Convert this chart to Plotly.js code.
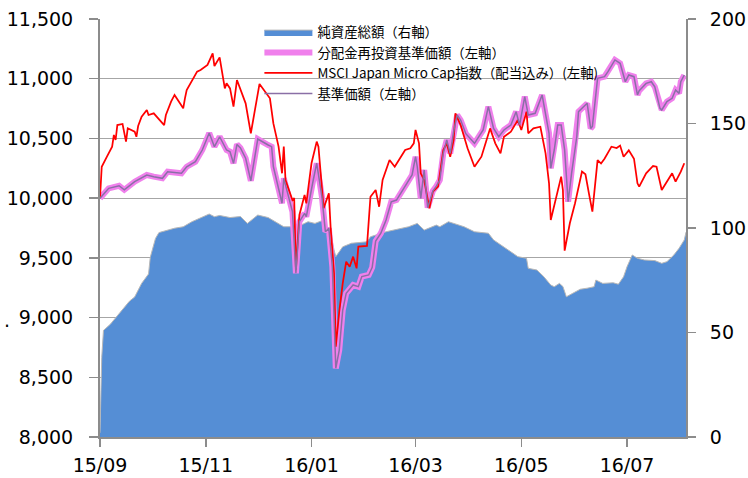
<!DOCTYPE html>
<html>
<head>
<meta charset="utf-8">
<script src="https://cdn.plot.ly/plotly-3.0.1.min.js"></script>
<style>html,body{margin:0;padding:0;background:#fff;}#chart{width:748px;height:478px;}</style>
</head>
<body>
<div id="chart"></div>
<script>
// 純資産総額（右軸, 億円）
const assetDates = ["2015-09-01","2015-09-02","2015-09-03","2015-09-07","2015-09-11","2015-09-14","2015-09-18","2015-09-21","2015-09-25","2015-09-29","2015-09-30","2015-10-03","2015-10-05","2015-10-14","2015-10-19","2015-10-24","2015-10-30","2015-11-03","2015-11-06","2015-11-09","2015-11-15","2015-11-21","2015-11-25","2015-12-01","2015-12-07","2015-12-13","2015-12-16","2015-12-24","2015-12-30","2016-01-03","2016-01-07","2016-01-09","2016-01-12","2016-01-14","2016-01-15","2016-01-19","2016-01-24","2016-02-02","2016-02-04","2016-02-13","2016-02-23","2016-02-26","2016-03-02","2016-03-06","2016-03-13","2016-03-15","2016-03-20","2016-03-22","2016-03-23","2016-03-29","2016-04-04","2016-04-12","2016-04-15","2016-04-19","2016-04-25","2016-04-29","2016-05-04","2016-05-05","2016-05-10","2016-05-14","2016-05-18","2016-05-20","2016-05-23","2016-05-25","2016-05-27","2016-05-31","2016-06-04","2016-06-08","2016-06-12","2016-06-13","2016-06-17","2016-06-23","2016-06-26","2016-06-29","2016-07-01","2016-07-04","2016-07-07","2016-07-11","2016-07-17","2016-07-21","2016-07-24","2016-07-28","2016-07-31","2016-08-03","2016-08-04"];
const assetVals = [2,38,51,54,58,61,65,67,73.5,78,86,95,97.8,99.9,100.6,103,105.4,106.7,105.4,106,105,105.5,102.2,106.2,105,102.2,100.6,100.6,103,102.2,103.5,100.6,97.5,89.5,86.3,91,92.7,93.4,95.8,98.2,99.8,100.6,102.2,99,101.4,100.6,103,102.5,102.2,100.6,98.2,97.5,94.3,92,88.7,86.3,85.5,80.7,79.9,76.7,72.7,71.9,73.5,72,67.1,68.8,70.7,71.2,71.9,75.1,73.5,73.8,73.1,76.7,81.5,87.1,85.5,84.7,84.4,83.1,83.9,87.1,90.3,94.3,98];

// 分配金再投資基準価額（左軸）
const reinvDates = ["2015-09-01","2015-09-06","2015-09-12","2015-09-15","2015-09-21","2015-09-28","2015-10-02","2015-10-07","2015-10-10","2015-10-18","2015-10-21","2015-10-26","2015-10-30","2015-11-03","2015-11-06","2015-11-09","2015-11-13","2015-11-15","2015-11-17","2015-11-19","2015-11-21","2015-11-24","2015-11-27","2015-12-01","2015-12-07","2015-12-09","2015-12-10","2015-12-15","2015-12-16","2015-12-21","2015-12-23","2015-12-25","2015-12-28","2015-12-29","2016-01-02","2016-01-04","2016-01-07","2016-01-09","2016-01-11","2016-01-13","2016-01-15","2016-01-17","2016-01-19","2016-01-21","2016-01-25","2016-01-28","2016-01-30","2016-02-03","2016-02-05","2016-02-07","2016-02-10","2016-02-13","2016-02-16","2016-02-19","2016-02-25","2016-02-28","2016-03-01","2016-03-02","2016-03-04","2016-03-06","2016-03-08","2016-03-11","2016-03-13","2016-03-15","2016-03-17","2016-03-19","2016-03-21","2016-03-23","2016-03-25","2016-03-27","2016-03-30","2016-04-04","2016-04-09","2016-04-12","2016-04-15","2016-04-18","2016-04-21","2016-04-25","2016-04-28","2016-04-30","2016-05-03","2016-05-05","2016-05-09","2016-05-13","2016-05-17","2016-05-18","2016-05-20","2016-05-22","2016-05-24","2016-05-26","2016-05-28","2016-05-30","2016-06-02","2016-06-03","2016-06-08","2016-06-10","2016-06-11","2016-06-14","2016-06-18","2016-06-20","2016-06-24","2016-06-27","2016-06-30","2016-07-02","2016-07-05","2016-07-07","2016-07-08","2016-07-12","2016-07-15","2016-07-17","2016-07-20","2016-07-21","2016-07-24","2016-07-27","2016-07-29","2016-07-31","2016-08-01","2016-08-03"];
const reinvVals = [10000,10082,10104,10070,10138,10194,10180,10166,10221,10208,10263,10305,10403,10545,10431,10514,10403,10389,10292,10450,10420,10334,10145,10495,10445,10431,10263,9957,10166,9887,9371,9803,9873,9845,10152,10292,10012,9719,9747,9426,8575,8728,9063,9203,9273,9259,9343,9357,9420,9640,9706,9817,9970,9984,10124,10194,10347,10263,9998,10236,9920,10060,10100,10152,10375,10487,10375,10560,10696,10654,10540,10459,10571,10766,10584,10514,10571,10612,10724,10612,10850,10696,10710,10864,10543,10250,10403,10612,10612,10403,9970,10208,10514,10724,10794,10584,10600,11003,11017,11059,11157,11129,10975,11031,11017,10864,10900,10961,10975,10933,10752,10738,10808,10836,10905,10877,10975,11031];

// 基準価額（左軸）— no distributions, identical to reinvested NAV
const navDates = reinvDates;
const navVals = reinvVals;

// MSCI Japan Micro Cap指数（配当込み）（左軸, rebased）
const msciDates = ["2015-09-01","2015-09-02","2015-09-05","2015-09-08","2015-09-09","2015-09-10","2015-09-11","2015-09-14","2015-09-16","2015-09-17","2015-09-21","2015-09-22","2015-09-23","2015-09-25","2015-09-28","2015-09-29","2015-10-02","2015-10-08","2015-10-09","2015-10-12","2015-10-14","2015-10-19","2015-10-20","2015-10-21","2015-10-27","2015-10-29","2015-11-02","2015-11-05","2015-11-06","2015-11-09","2015-11-12","2015-11-13","2015-11-15","2015-11-17","2015-11-19","2015-11-21","2015-11-24","2015-11-27","2015-12-02","2015-12-08","2015-12-10","2015-12-13","2015-12-15","2015-12-16","2015-12-17","2015-12-21","2015-12-22","2015-12-23","2015-12-25","2015-12-28","2015-12-29","2016-01-01","2016-01-04","2016-01-05","2016-01-08","2016-01-11","2016-01-12","2016-01-14","2016-01-15","2016-01-17","2016-01-19","2016-01-21","2016-01-23","2016-01-25","2016-01-27","2016-01-28","2016-02-02","2016-02-04","2016-02-07","2016-02-09","2016-02-11","2016-02-15","2016-02-18","2016-02-24","2016-02-27","2016-02-29","2016-03-01","2016-03-03","2016-03-04","2016-03-06","2016-03-09","2016-03-11","2016-03-14","2016-03-17","2016-03-19","2016-03-21","2016-03-23","2016-03-24","2016-03-27","2016-03-31","2016-04-04","2016-04-08","2016-04-13","2016-04-16","2016-04-19","2016-04-21","2016-04-25","2016-04-29","2016-05-01","2016-05-04","2016-05-05","2016-05-08","2016-05-12","2016-05-15","2016-05-17","2016-05-18","2016-05-21","2016-05-24","2016-05-25","2016-05-26","2016-05-29","2016-06-01","2016-06-05","2016-06-07","2016-06-09","2016-06-11","2016-06-14","2016-06-16","2016-06-18","2016-06-22","2016-06-25","2016-06-27","2016-06-29","2016-07-02","2016-07-05","2016-07-07","2016-07-08","2016-07-12","2016-07-16","2016-07-18","2016-07-21","2016-07-24","2016-07-27","2016-07-29","2016-08-01","2016-08-03"];
const msciVals = [10000,10263,10347,10431,10529,10487,10612,10621,10473,10585,10556,10514,10604,10682,10738,10696,10710,10612,10696,10808,10864,10752,10836,10905,11059,11073,11115,11213,11106,11179,10919,10961,10919,10766,10989,10905,10794,10543,10956,10836,10626,10431,10208,10431,10152,9984,10000,9400,9859,10026,9957,10292,10473,10431,9915,10040,9761,9371,8756,9050,9287,9468,9426,9510,9412,9594,9600,10012,10068,9928,10152,10319,10263,10403,10417,10459,10571,10459,10208,10150,9915,10054,10096,10403,10459,10347,10487,10710,10612,10417,10263,10347,10584,10459,10375,10514,10556,10654,10571,10724,10543,10584,10598,10375,10124,9817,10012,10180,10068,9560,9790,9957,10222,10200,10040,9887,10319,10290,10330,10431,10420,10440,10347,10400,10330,10124,10096,10208,10269,10263,10068,10138,10208,10138,10222,10292];

const names = ["純資産総額（右軸）","分配金再投資基準価額（左軸）","MSCI Japan Micro Cap指数（配当込み）(左軸)","基準価額（左軸）"];

const tickFont = {family: "DejaVu Sans", size: 19, color: "#000"};

const data = [
  {x: assetDates, y: assetVals, name: names[0], type: "scatter", mode: "lines",
   fill: "tozeroy", fillcolor: "#558ed5", line: {color: "#b8b8b8", width: 1},
   xaxis: "x", yaxis: "y", hoverinfo: "skip"},
  {x: reinvDates, y: reinvVals, name: names[1], type: "scatter", mode: "lines",
   line: {color: "#f080ec", width: 6}, xaxis: "x", yaxis: "y2"},
  {x: msciDates, y: msciVals, name: names[2], type: "scatter", mode: "lines",
   line: {color: "#ff0000", width: 1.75}, xaxis: "x", yaxis: "y2"},
  {x: navDates, y: navVals, name: names[3], type: "scatter", mode: "lines",
   line: {color: "#8a6fa6", width: 1.5}, xaxis: "x", yaxis: "y2"}
];

const layout = {
  width: 748, height: 478,
  margin: {l: 100, r: 62, t: 19, b: 41},
  paper_bgcolor: "#fff", plot_bgcolor: "rgba(0,0,0,0)",
  showlegend: true,
  legend: {x: 0.272, y: 1.005, xanchor: "left", yanchor: "top",
           bgcolor: "rgba(0,0,0,0)", itemwidth: 48,
           font: {family: "Noto Sans CJK JP", size: 13.4, color: "#000"},
           tracegroupgap: 0},
  xaxis: {type: "date", range: ["2015-09-01", "2016-08-04"],
          tick0: "2015-09-01", dtick: "M2", tickformat: "%y/%m",
          ticks: "outside", ticklen: 8, tickcolor: "#8c8c8c", tickwidth: 1.5,
          showline: true, linecolor: "#8c8c8c", linewidth: 2,
          showgrid: false, zeroline: false, tickfont: tickFont,
          ticklabelstandoff: 2},
  yaxis: {range: [0, 200], dtick: 50, side: "right",
          ticks: "outside", ticklen: 8, tickcolor: "#8c8c8c", tickwidth: 1.5,
          showline: true, linecolor: "#8c8c8c", linewidth: 2,
          showgrid: false, zeroline: false, tickfont: tickFont,
          ticklabelstandoff: 10},
  yaxis2: {range: [8000, 11500], dtick: 500, tickformat: ",", side: "left",
           overlaying: "y",
           ticks: "outside", ticklen: 9, tickcolor: "#8c8c8c", tickwidth: 1.5,
           showline: true, linecolor: "#8c8c8c", linewidth: 2,
           showgrid: true, gridcolor: "#a6a6a6", gridwidth: 1,
           zeroline: false, tickfont: tickFont, ticklabelstandoff: 12},
  annotations: [{xref: "paper", yref: "paper", x: -0.168, y: 0.28,
                 xanchor: "left", yanchor: "middle", showarrow: false,
                 text: ".", font: {family: "DejaVu Sans", size: 19, color: "#000"}}]
};

Plotly.newPlot("chart", data, layout, {displayModeBar: false, staticPlot: true});
</script>
</body>
</html>
